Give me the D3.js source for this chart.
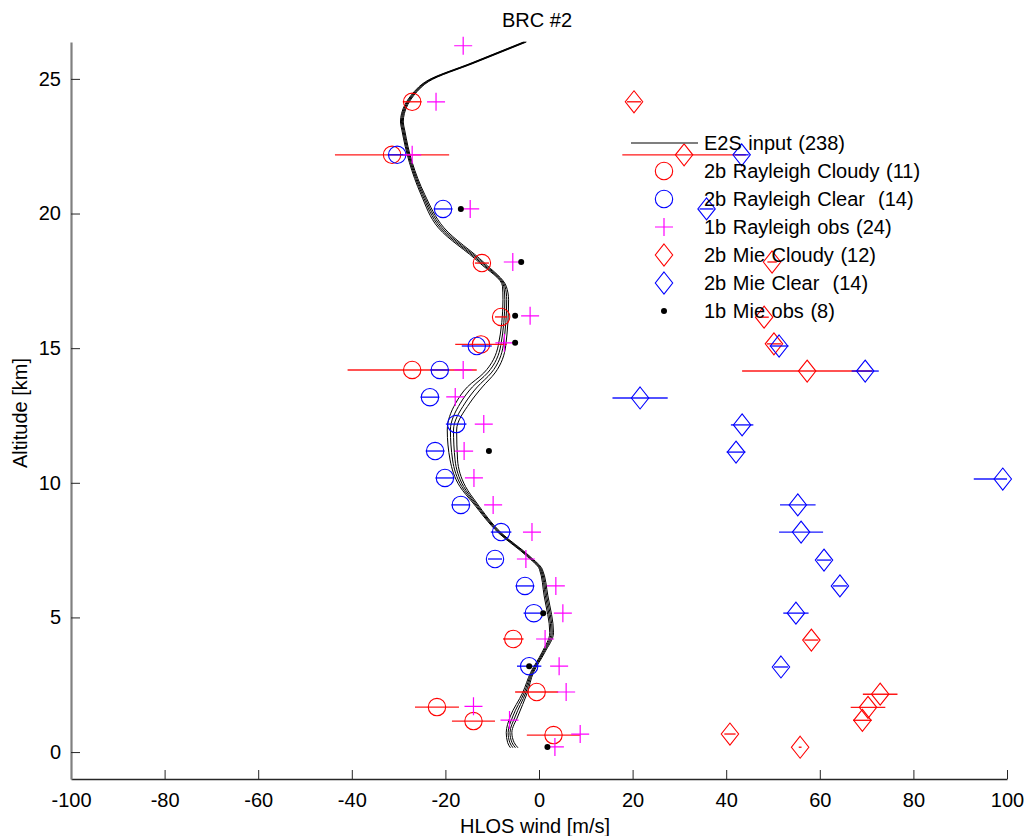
<!DOCTYPE html>
<html>
<head>
<meta charset="utf-8">
<script src="https://cdn.jsdelivr.net/npm/d3@7"></script>
<style>
  body { margin: 0; background: #fff; }
  svg text { font-family: "Liberation Sans", Arial, sans-serif; }
</style>
</head>
<body>
<svg id="drawing_region"></svg>
<script>
// E2S input profile (centre of the bundle and half-width of the bundle)
const e2sAlt    = [26.37, 25.6, 24.9, 24.7, 23.4, 23.1, 21.9, 20.7, 19.47, 18.17, 17.3, 16.8, 15.1, 14.08, 13.56, 12.96, 11.96, 10.85, 9.86, 9.25, 8.13, 7.26, 6.79, 5.8, 4.43, 3.69, 2.95, 2.2, 1.34, 0.72, 0.35, 0.16];
const e2sWind   = [-3.0, -14.0, -23.9, -25.4, -29.3, -29.0, -27.4, -24.8, -20.9, -12.2, -7.4, -7.1, -7.9, -10.6, -13.7, -16.3, -18.6, -18.2, -16.3, -13.7, -8.3, -2.2, 0.4, 1.5, 2.7, 0.9, -1.5, -3.0, -5.3, -6.4, -6.0, -5.3];
const e2sSpread = [0.3, 0.3, 0.3, 0.3, 0.3, 0.3, 0.3, 0.4, 0.6, 0.5, 0.4, 0.6, 0.8, 1.2, 1.6, 1.5, 1.0, 0.8, 0.6, 0.4, 0.3, 0.3, 0.3, 0.4, 0.4, 0.3, 0.3, 0.5, 0.8, 0.6, 0.7, 0.8];
const e2sOffsets = [-1, -0.33, 0.33, 1];

// 2b Rayleigh Cloudy
const rayCloudyAlt  = [24.15, 22.18, 18.16, 16.16, 15.14, 14.19, 4.2, 2.23, 1.67, 1.15, 0.63];
const rayCloudyWind = [-27.1, -31.4, -12.2, -8.1, -12.4, -27.1, -5.5, -0.5, -21.8, -14.0, 3.1];
const rayCloudyErr  = [2.0, 12.2, 1.5, 1.3, 5.5, 13.8, 2.2, 4.6, 4.7, 4.6, 5.7];

// 2b Rayleigh Clear
const rayClearAlt  = [22.18, 20.17, 15.08, 14.19, 13.18, 12.18, 11.18, 10.18, 9.18, 8.17, 7.17, 6.17, 5.16, 3.19];
const rayClearWind = [-30.3, -20.5, -13.3, -21.2, -23.3, -17.7, -22.2, -20.1, -16.7, -8.1, -9.4, -3.0, -1.1, -2.1];
const rayClearErr  = [2.0, 2.0, 3.2, 2.0, 2.0, 2.2, 2.0, 2.0, 2.0, 2.2, 1.5, 2.0, 2.2, 2.6];

// 1b Rayleigh obs
const ray1bAlt  = [26.23, 24.15, 22.18, 20.17, 18.2, 16.2, 15.2, 14.19, 13.19, 12.18, 11.18, 10.18, 9.18, 8.17, 7.17, 6.17, 5.16, 4.2, 3.19, 2.23, 1.7, 1.19, 0.67, 0.19];
const ray1bWind = [-16.2, -22.0, -27.1, -14.7, -5.6, -1.9, -7.4, -16.2, -17.9, -11.8, -16.0, -13.9, -9.8, -1.5, -2.8, 3.6, 5.1, 1.3, 4.3, 5.8, -14.0, -6.3, 8.8, 3.4];

// 2b Mie Cloudy
const mieCloudyAlt  = [24.15, 22.18, 18.2, 16.15, 15.16, 14.15, 4.16, 2.15, 1.66, 1.18, 0.67, 0.18];
const mieCloudyWind = [20.3, 31.0, 49.8, 48.1, 50.2, 57.3, 58.2, 72.9, 70.3, 69.1, 40.8, 55.8];
const mieCloudyErr  = [1.5, 13.2, 1.0, 1.0, 1.5, 13.9, 1.5, 3.7, 3.7, 2.0, 1.2, 0.3];

// 2b Mie Clear
const mieClearAlt  = [22.18, 20.17, 15.08, 14.15, 13.15, 12.15, 11.14, 10.14, 9.18, 8.17, 7.13, 6.17, 5.16, 3.16];
const mieClearWind = [43.3, 35.8, 51.3, 69.7, 21.6, 43.4, 42.1, 99.1, 55.3, 56.0, 60.9, 64.3, 54.9, 51.7];
const mieClearErr  = [1.5, 1.5, 2.0, 2.9, 5.9, 2.4, 2.0, 6.2, 3.8, 4.7, 1.5, 1.5, 2.7, 1.5];

// 1b Mie obs
const mie1bAlt  = [20.17, 18.2, 16.2, 15.2, 11.18, 5.16, 3.19, 0.19];
const mie1bWind = [-16.7, -3.8, -5.1, -5.1, -10.7, 0.9, -2.1, 1.8];

const xTicks = [-100, -80, -60, -40, -20, 0, 20, 40, 60, 80, 100];
const yTicks = [0, 5, 10, 15, 20, 25];

const legendLabels = ["E2S input (238)", "2b Rayleigh Cloudy (11)", "2b Rayleigh Clear  (14)", "1b Rayleigh obs (24)", "2b Mie Cloudy (12)", "2b Mie Clear  (14)", "1b Mie obs (8)"];

function zip(alt, wind, err) {
    return alt.map((a, i) => ({ alt: a, wind: wind[i], err: err ? err[i] : 0 }));
}

class ProfileChart {

    constructor( config ) {
        this.config = config;
        this.init();
    }

    init() {
        let self = this;
        let c = self.config;

        self.svg = d3.select( c.parent )
            .attr('width', c.width)
            .attr('height', c.height);

        self.xscale = d3.scaleLinear()
            .domain([-100, 100])
            .range([71, 1007]);

        self.yscale = d3.scaleLinear()
            .domain([-1, 26.37])
            .range([779, 42]);

        self.svg.append('defs').append('clipPath')
            .attr('id', 'plotclip')
            .append('rect')
            .attr('x', 71).attr('y', 30)
            .attr('width', 936).attr('height', 749);

        self.chart = self.svg.append('g');
    }

    render() {
        let self = this;
        let x = self.xscale, y = self.yscale;

        // axes (ticks pointing inward, plain hyphen minus)
        const xaxis = d3.axisBottom(x)
            .tickValues(xTicks)
            .tickSizeInner(-9)
            .tickSizeOuter(0)
            .tickPadding(14)
            .tickFormat(d => String(d));

        const yaxis = d3.axisLeft(y)
            .tickValues(yTicks)
            .tickSizeInner(-9)
            .tickSizeOuter(0)
            .tickPadding(10)
            .tickFormat(d => String(d));

        const xg = self.svg.append('g')
            .attr('transform', 'translate(0, 779)')
            .call(xaxis);
        xg.select('.domain').attr('stroke', '#262626').attr('stroke-width', 1.3);

        const yg = self.svg.append('g')
            .attr('transform', 'translate(71, 0)')
            .call(yaxis);
        yg.select('.domain').attr('stroke', '#808080').attr('stroke-width', 2.2);

        self.svg.selectAll('.tick line').attr('stroke', '#262626');
        self.svg.selectAll('.tick text')
            .attr('font-size', 20)
            .attr('fill', '#000')
            .style('font-family', '"Liberation Sans", Arial, sans-serif');

        // E2S bundle
        const e2s = e2sAlt.map((a, i) => ({ alt: a, wind: e2sWind[i], s: e2sSpread[i] }));
        e2sOffsets.forEach(k => {
            self.chart.append('path')
                .datum(e2s)
                .attr('fill', 'none')
                .attr('stroke', '#000')
                .attr('stroke-width', 1)
                .attr('d', d3.line()
                    .x(d => x(d.wind + k * d.s))
                    .y(d => y(d.alt))
                    .curve(d3.curveMonotoneY));
        });

        self.series(zip(rayCloudyAlt, rayCloudyWind, rayCloudyErr), 'circle', '#ff0000');
        self.series(zip(rayClearAlt, rayClearWind, rayClearErr), 'circle', '#0000ff');
        self.series(zip(ray1bAlt, ray1bWind), 'plus', '#ff00ff');
        self.series(zip(mieCloudyAlt, mieCloudyWind, mieCloudyErr), 'diamond', '#ff0000');
        self.series(zip(mieClearAlt, mieClearWind, mieClearErr), 'diamond', '#0000ff');
        self.series(zip(mie1bAlt, mie1bWind), 'dot', '#000');

        // title and labels
        self.svg.append('text')
            .attr('x', 537).attr('y', 27)
            .attr('text-anchor', 'middle')
            .attr('font-size', 20)
            .text('BRC #2');

        self.svg.append('text')
            .attr('x', 535).attr('y', 833)
            .attr('text-anchor', 'middle')
            .attr('font-size', 20)
            .text('HLOS wind [m/s]');

        self.svg.append('text')
            .attr('transform', 'translate(27, 413) rotate(-90)')
            .attr('text-anchor', 'middle')
            .attr('font-size', 20)
            .text('Altitude [km]');

        self.legend();
    }

    marker(g, shape, color) {
        if (shape === 'circle') {
            g.append('circle').attr('r', 8.7)
                .attr('fill', 'none').attr('stroke', color).attr('stroke-width', 1.1);
        } else if (shape === 'diamond') {
            g.append('path').attr('d', 'M0,-11L8.7,0L0,11L-8.7,0Z')
                .attr('fill', 'none').attr('stroke', color).attr('stroke-width', 1.1);
        } else if (shape === 'plus') {
            g.append('path').attr('d', 'M-9,0H9M0,-9V9')
                .attr('fill', 'none').attr('stroke', color).attr('stroke-width', 1.2);
        } else {
            g.append('circle').attr('r', 3).attr('fill', color);
        }
    }

    series(data, shape, color) {
        let self = this;
        let x = self.xscale, y = self.yscale;
        const g = self.chart.append('g');

        g.selectAll('line')
            .data(data.filter(d => d.err > 0))
            .enter()
            .append('line')
            .attr('clip-path', 'url(#plotclip)')
            .attr('x1', d => x(d.wind - d.err))
            .attr('x2', d => x(d.wind + d.err))
            .attr('y1', d => y(d.alt))
            .attr('y2', d => y(d.alt))
            .attr('stroke', color)
            .attr('stroke-width', 1.4)
            .attr('opacity', 0.9);

        g.selectAll('g.mk')
            .data(data)
            .enter()
            .append('g')
            .attr('class', 'mk')
            .attr('transform', d => `translate(${x(d.wind)}, ${y(d.alt)})`)
            .each(function() { self.marker(d3.select(this), shape, color); });
    }

    legend() {
        let self = this;
        const shapes = ['line', 'circle', 'circle', 'plus', 'diamond', 'diamond', 'dot'];
        const colors = ['#555', '#ff0000', '#0000ff', '#ff00ff', '#ff0000', '#0000ff', '#000'];
        const lg = self.svg.append('g');

        legendLabels.forEach((label, i) => {
            const cy = 143 + i * 28;
            if (shapes[i] === 'line') {
                lg.append('line')
                    .attr('x1', 631).attr('x2', 698)
                    .attr('y1', cy).attr('y2', cy)
                    .attr('stroke', colors[i]).attr('stroke-width', 1.4);
            } else {
                const m = lg.append('g').attr('transform', `translate(664, ${cy})`);
                self.marker(m, shapes[i], colors[i]);
            }
            lg.append('text')
                .attr('x', 704).attr('y', cy + 7)
                .attr('font-size', 20)
                .style('word-spacing', '1px')
                .style('white-space', 'pre')
                .text(label);
        });
    }
}

const chart = new ProfileChart({
    parent: '#drawing_region',
    width: 1025,
    height: 836
});
chart.render();
</script>
</body>
</html>
